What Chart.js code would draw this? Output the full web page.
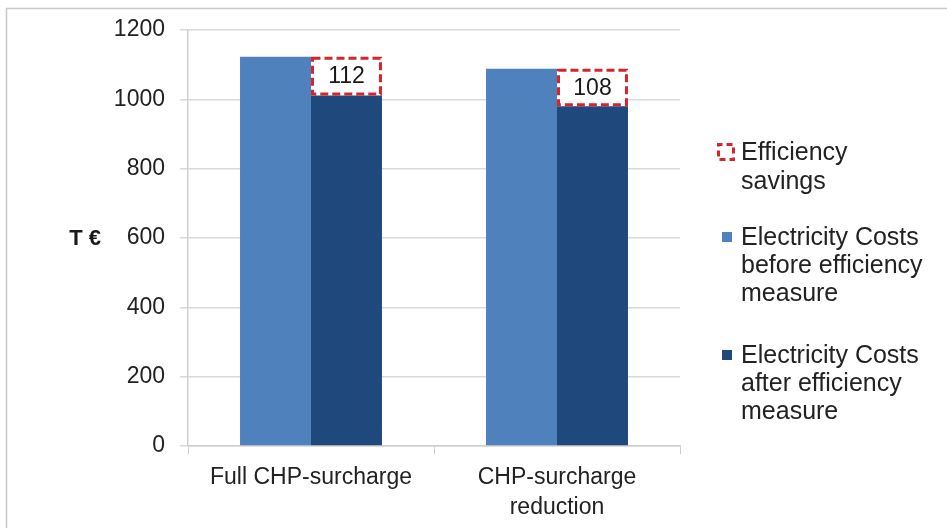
<!DOCTYPE html>
<html>
<head>
<meta charset="utf-8">
<script src="https://cdn.jsdelivr.net/npm/chart.js@4/dist/chart.umd.min.js"></script>
<style>
  html, body { margin: 0; padding: 0; background: #ffffff; }
  #wrap { position: relative; width: 947px; height: 528px; }
</style>
</head>
<body>
<div id="wrap"><canvas id="c" width="947" height="528"></canvas></div>
<script>
// ---- data ----
const categories = [['Full CHP-surcharge'], ['CHP-surcharge', 'reduction']];
const costsBefore = [1123, 1088];
const costsAfter = [1011, 980];
const savings = [112, 108];
const yMin = 0, yMax = 1200, yStep = 200;
const yAxisTitle = 'T €';
const legendLabels = [
  ['Efficiency', 'savings'],
  ['Electricity Costs', 'before efficiency', 'measure'],
  ['Electricity Costs', 'after efficiency', 'measure']
];

const FONT = "'Liberation Sans', Arial, sans-serif";
const TEXT = '#222222';
const LIGHT = '#4f81bd';
const DARK = '#1f497d';
const RED = '#d4252b';

const decorations = {
  id: 'decorations',
  beforeDraw(chart) {
    const ctx = chart.ctx;
    ctx.save();
    ctx.strokeStyle = '#c8c8c8';
    ctx.lineWidth = 1.5;
    ctx.beginPath();
    ctx.moveTo(6.5, 528);
    ctx.lineTo(6.5, 8.5);
    ctx.lineTo(947, 8.5);
    ctx.stroke();
    ctx.restore();
  },
  afterDatasetsDraw(chart) {
    const ctx = chart.ctx;
    const meta = chart.getDatasetMeta(2);
    ctx.save();
    meta.data.forEach((bar, i) => {
      const p = bar.getProps(['x', 'y', 'base', 'width'], true);
      const l = p.x - p.width / 2, r = p.x + p.width / 2;
      const t = Math.min(p.y, p.base), b = Math.max(p.y, p.base);
      ctx.strokeStyle = RED;
      ctx.lineWidth = 3;
      ctx.setLineDash([8, 4]);
      ctx.strokeRect(l + 1.5, t + 1.5, r - l - 3, b - t - 3);
      ctx.setLineDash([]);
      ctx.fillStyle = '#1a1a1a';
      ctx.font = '23px ' + FONT;
      ctx.textAlign = 'center';
      ctx.textBaseline = 'middle';
      ctx.fillText(String(savings[i]), p.x, (t + b) / 2 + 1);
    });
    ctx.restore();
  },
  afterDraw(chart) {
    const ctx = chart.ctx;
    const ys = chart.scales.y;
    ctx.save();
    // y axis title
    ctx.fillStyle = '#1a1a1a';
    ctx.font = 'bold 22px ' + FONT;
    ctx.textAlign = 'right';
    ctx.textBaseline = 'middle';
    ctx.fillText(yAxisTitle, 101, ys.getPixelForValue(600) + 1);

    // legend
    const baselines = [[160, 189], [245, 273, 301], [363, 391, 419]];
    ctx.font = '25px ' + FONT;
    ctx.textAlign = 'left';
    ctx.textBaseline = 'alphabetic';
    ctx.fillStyle = TEXT;
    legendLabels.forEach((lines, i) => {
      lines.forEach((ln, j) => ctx.fillText(ln, 741, baselines[i][j]));
    });
    // icons
    ctx.strokeStyle = RED;
    ctx.lineWidth = 3;
    ctx.setLineDash([6, 4]);
    ctx.lineDashOffset = 2;
    ctx.strokeRect(718.5, 144.5, 15, 15);
    ctx.setLineDash([]);
    ctx.fillStyle = LIGHT;
    ctx.fillRect(722, 232, 10, 10);
    ctx.fillStyle = DARK;
    ctx.fillRect(722, 350, 10, 10);
    ctx.restore();
  }
};

new Chart(document.getElementById('c'), {
  type: 'bar',
  data: {
    labels: categories,
    datasets: [
      { label: legendLabels[1].join(' '), data: costsBefore, backgroundColor: LIGHT, stack: 'before' },
      { label: legendLabels[2].join(' '), data: costsAfter, backgroundColor: DARK, stack: 'after' },
      { label: legendLabels[0].join(' '), data: savings, backgroundColor: '#ffffff', stack: 'after' }
    ]
  },
  options: {
    responsive: false,
    animation: false,
    devicePixelRatio: 1,
    categoryPercentage: 0.577,
    barPercentage: 1.0,
    layout: { padding: { left: 0, top: 30, right: 267, bottom: 0 } },
    plugins: { legend: { display: false }, tooltip: { enabled: false } },
    scales: {
      x: {
        stacked: true,
        grid: { drawOnChartArea: false, drawTicks: true, tickLength: 8, color: '#cfcfcf', offset: true },
        border: { color: '#cfcfcf', width: 1.5 },
        ticks: { font: { family: FONT, size: 23, lineHeight: 1.28 }, color: TEXT, padding: 9, maxRotation: 0, autoSkip: false },
        afterFit: s => { s.height = 82; }
      },
      y: {
        stacked: true,
        min: yMin, max: yMax,
        grid: { color: '#d9d9d9', lineWidth: 1.5, tickLength: 8 },
        border: { color: '#cfcfcf', width: 1.5 },
        ticks: { stepSize: yStep, font: { family: FONT, size: 23 }, color: TEXT, padding: 15,
                 callback: v => String(v) },
        afterFit: s => { s.width = 188; }
      }
    }
  },
  plugins: [decorations]
});
</script>
</body>
</html>
